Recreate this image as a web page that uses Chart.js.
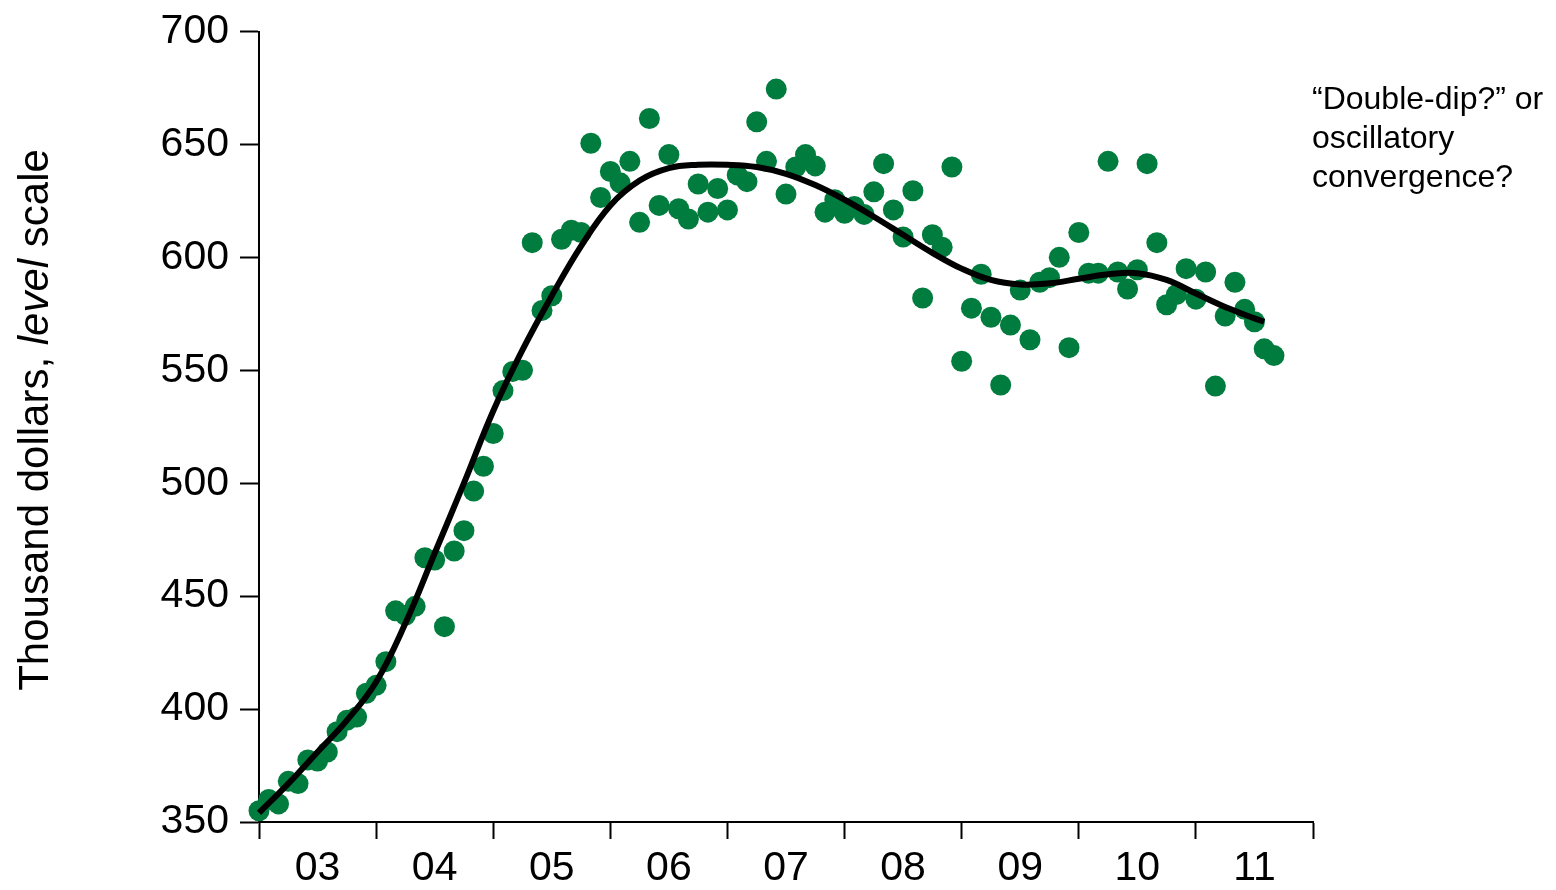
<!DOCTYPE html>
<html>
<head>
<meta charset="utf-8">
<script src="https://cdn.jsdelivr.net/npm/chart.js@4.4.1/dist/chart.umd.min.js"></script>
<style>
    body { margin: 0; background: #fff; }
    #wrap { width: 1556px; height: 890px; position: relative; }
</style>
</head>
<body>
<div id="wrap"><canvas id="priceChart"></canvas></div>
<script>
// Monthly values, Jan 2003 .. Sep 2011 (thousand dollars)
const startYear = 2003;
const monthlyValues = [
    355, 360, 358, 368, 367, 377.5, 377, 381, 390, 395, 396.5, 407,
    410.5, 421, 443.5, 441.5, 445.5, 467, 466, 436.5, 470, 479, 496.5, 507.5,
    522, 541, 549.5, 550, 606.5, 576.5, 583, 608, 612, 611, 650.5, 626.5,
    638, 633, 642.5, 615.5, 661.5, 623, 645.5, 621.5, 617, 632.5, 620, 630.5,
    621, 636.5, 633.5, 660, 642.5, 674.5, 628, 640, 645.5, 640.5, 620, 625.5,
    619.5, 622.5, 619, 629, 641.5, 621, 609, 629.5, 582, 610, 604.5, 640,
    554, 577.5, 592.5, 573.5, 543.5, 570, 585.5, 563.5, 589, 591, 600, 560,
    611, 593, 593, 642.5, 593.5, 586, 594.5, 641.5, 606.5, 579, 583.5, 595,
    581.5, 593.5, 543, 574, 589, 577, 571.5, 559.5, 556.5
];

// Smoothed trend (month index -> value)
const trendMonths = [0, 3, 6, 9, 12, 15, 18, 21, 24, 27, 30, 33, 36, 39, 42, 45, 48, 51,
    54, 57, 60, 63, 66, 69, 72, 75, 78, 81, 84, 87, 90, 93, 96, 99, 102, 103];
const trendValues = [354, 367, 381, 395, 412, 438, 469, 500, 532, 559, 583, 605, 623, 634, 639.5, 641, 641, 640,
    637, 632, 625.5, 618, 610, 602, 595, 590, 588, 588.5, 590.5, 592.5, 593, 590, 584, 578, 573, 571.5];

// Axis labels
const yearLabels = ['03', '04', '05', '06', '07', '08', '09', '10', '11'];
const yTitleParts = ['Thousand dollars, ', 'level', ' scale'];
const noteLines = ['\u201cDouble-dip?\u201d or', 'oscillatory', 'convergence?'];

const FONT = '"Liberation Sans", Arial, sans-serif';

const toYear = (m) => startYear + m / 12;

// Rotated y title with italic word + side note
const textPlugin = {
    id: 'textPlugin',
    afterDraw: (chart) => {
        const ctx = chart.ctx;
        ctx.save();
        ctx.fillStyle = '#000';
        ctx.textBaseline = 'alphabetic';

        // y title
        const fonts = ['42px ' + FONT, 'italic 42px ' + FONT, '42px ' + FONT];
        const widths = yTitleParts.map((t, i) => {
            ctx.font = fonts[i];
            return ctx.measureText(t).width;
        });
        const total = widths.reduce((a, b) => a + b, 0);
        ctx.translate(48, 420);
        ctx.rotate(-Math.PI / 2);
        let x = -total / 2;
        yTitleParts.forEach((t, i) => {
            ctx.font = fonts[i];
            ctx.textAlign = 'left';
            ctx.fillText(t, x, 0);
            x += widths[i];
        });
        ctx.restore();

        // note
        ctx.save();
        ctx.fillStyle = '#000';
        ctx.font = '32px ' + FONT;
        ctx.textAlign = 'left';
        ctx.textBaseline = 'alphabetic';
        noteLines.forEach((line, i) => {
            ctx.fillText(line, 1312, 109 + i * 39);
        });
        ctx.restore();
    }
};

const ctx = document.getElementById('priceChart').getContext('2d');
new Chart(ctx, {
    type: 'scatter',
    data: {
        datasets: [
            {
                label: 'Trend',
                data: trendMonths.map((m, i) => ({ x: toYear(m), y: trendValues[i] })),
                showLine: true,
                borderColor: '#000',
                borderWidth: 6,
                pointRadius: 0,
                tension: 0.4,
                clip: false,
                order: 0
            },
            {
                label: 'Monthly',
                data: monthlyValues.map((v, i) => ({ x: toYear(i), y: v })),
                backgroundColor: '#007c3e',
                borderWidth: 0,
                pointRadius: 10.5,
                clip: false,
                order: 1
            }
        ]
    },
    options: {
        responsive: true,
        maintainAspectRatio: false,
        animation: false,
        events: [],
        layout: { padding: { top: 30, right: 243, bottom: 0, left: 0 } },
        plugins: {
            legend: { display: false },
            tooltip: { enabled: false }
        },
        scales: {
            x: {
                type: 'linear',
                min: 2003,
                max: 2012,
                afterFit: (scale) => { scale.height = 68; },
                border: { display: true, color: '#000', width: 2 },
                grid: {
                    drawOnChartArea: false,
                    drawTicks: true,
                    tickLength: 17,
                    tickWidth: 2,
                    color: (c) => (c.tick && c.tick.value % 1 === 0 ? '#000' : 'rgba(0,0,0,0)')
                },
                ticks: {
                    stepSize: 0.5,
                    autoSkip: false,
                    maxRotation: 0,
                    padding: 5,
                    color: '#000',
                    font: { family: FONT, size: 41 },
                    callback: (v) => (v % 1 === 0.5 ? yearLabels[Math.floor(v) - startYear] : '')
                }
            },
            y: {
                min: 350,
                max: 700,
                afterFit: (scale) => { scale.width = 259; },
                border: { display: true, color: '#000', width: 2 },
                grid: {
                    drawOnChartArea: false,
                    drawTicks: true,
                    tickLength: 19,
                    tickWidth: 2,
                    color: '#000'
                },
                ticks: {
                    stepSize: 50,
                    padding: 11,
                    color: '#000',
                    font: { family: FONT, size: 41, lineHeight: 1 }
                }
            }
        }
    },
    plugins: [textPlugin]
});
</script>
</body>
</html>
